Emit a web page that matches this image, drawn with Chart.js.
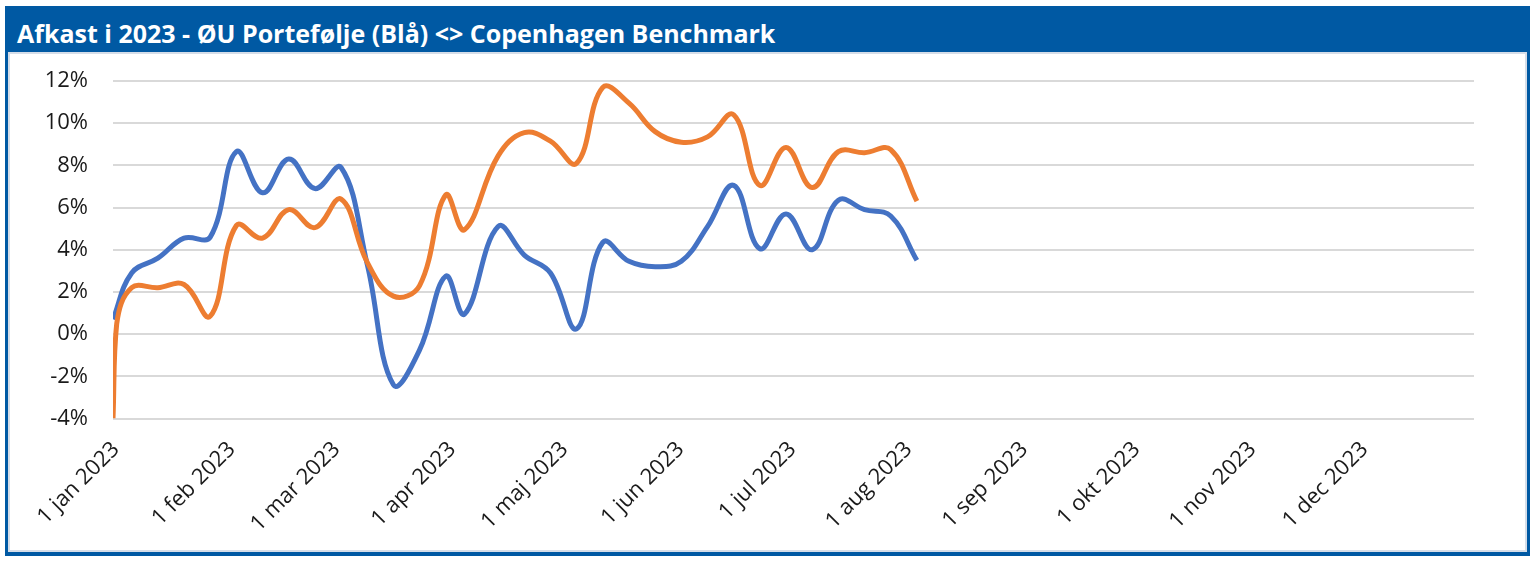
<!DOCTYPE html>
<html>
<head>
<meta charset="utf-8">
<script src="https://cdn.jsdelivr.net/npm/chart.js@4.4.0/dist/chart.umd.min.js"></script>
<style>
  body { margin: 0; background: #fff; }
  #frame {
    position: absolute; left: 5px; top: 6px; width: 1525px; height: 550px;
    box-sizing: border-box; border: 3px solid #0059a3; border-top: 0; border-bottom-width: 4px;
  }
  #title {
    height: 46px; background: #0059a3; color: #fff; padding-left: 9px;
    font-family: "Open Sans", sans-serif; font-weight: 700; font-size: 25px;
    line-height: 54px; white-space: nowrap; overflow: visible;
  }
  #inner {
    height: 500px; box-sizing: border-box; border: 2px solid #d5dde8; background: #fff;
  }
  #wrap { position: relative; width: 1515px; height: 496px; }
</style>
</head>
<body>
<div id="frame">
  <div id="title">Afkast i 2023 - ØU Portefølje (Blå) &lt;&gt; Copenhagen Benchmark</div>
  <div id="inner"><div id="wrap"><canvas id="afkastChart"></canvas></div></div>
</div>
<script>
// ugentlige datoer (fredage), plus start 1 jan
const datoer = ['2023-01-01', '2023-01-02', '2023-01-06', '2023-01-13', '2023-01-20', '2023-01-27',
  '2023-02-03', '2023-02-10', '2023-02-17', '2023-02-24', '2023-03-03', '2023-03-10', '2023-03-17',
  '2023-03-24', '2023-03-31', '2023-04-05', '2023-04-14', '2023-04-21', '2023-04-28', '2023-05-05',
  '2023-05-12', '2023-05-19', '2023-05-26', '2023-06-02', '2023-06-09', '2023-06-16', '2023-06-23',
  '2023-06-30', '2023-07-07', '2023-07-14', '2023-07-21', '2023-07-28', '2023-08-04'];

// ØU Portefølje (blå), i procent
const portefolje = [0.7, null, 2.9, 3.6, 4.55, 4.6,
  8.65, 6.7, 8.3, 6.9, 7.9, 3.3, -2.4,
  -0.75, 2.75, 0.95, 5.1, 3.75, 2.9, 0.25,
  4.35, 3.45, 3.2, 3.45, 5.1, 7.05, 4.05,
  5.7, 4.0, 6.35, 5.9, 5.6, 3.5];

// Copenhagen Benchmark (orange), i procent
const benchmark = [-4, 0.5, 2.2, 2.2, 2.35, 0.85,
  5.15, 4.55, 5.9, 5.05, 6.4, 3.4, 1.8,
  2.3, 6.6, 4.95, 8.45, 9.55, 9.15, 8.1,
  11.7, 10.95, 9.6, 9.1, 9.35, 10.4, 7.05,
  8.85, 6.95, 8.65, 8.6, 8.75, 6.3];

const maanedStart = ['2023-01-01', '2023-02-01', '2023-03-01', '2023-04-01', '2023-05-01', '2023-06-01',
  '2023-07-01', '2023-08-01', '2023-09-01', '2023-10-01', '2023-11-01', '2023-12-01'];
const tickLabels = ['1 jan 2023', '1 feb 2023', '1 mar 2023', '1 apr 2023', '1 maj 2023', '1 jun 2023',
  '1 jul 2023', '1 aug 2023', '1 sep 2023', '1 okt 2023', '1 nov 2023', '1 dec 2023'];

const yMin = -4, yMax = 12, yStep = 2;

// dag nr. i året (1 jan = 0)
function dag(s) {
  const d = new Date(s + 'T00:00:00Z');
  return Math.round((d - Date.UTC(2023, 0, 1)) / 86400000);
}
const tickDage = maanedStart.map(dag);

function punkter(vaerdier) {
  return datoer.map((d, i) => ({ x: dag(d), y: vaerdier[i] }));
}

const fontTick = { family: '"Open Sans", sans-serif', size: 22 };

const ctx = document.getElementById('afkastChart').getContext('2d');
const afkastChart = new Chart(ctx, {
  type: 'line',
  data: {
    datasets: [{
      label: 'ØU Portefølje',
      data: punkter(portefolje),
      borderColor: '#4472c4',
      borderWidth: 5,
      pointRadius: 0,
      tension: 0.4,
      spanGaps: true,
      order: 1
    }, {
      label: 'Copenhagen Benchmark',
      data: punkter(benchmark),
      borderColor: '#ed7d31',
      borderWidth: 5,
      pointRadius: 0,
      tension: 0.4,
      order: 0
    }]
  },
  options: {
    responsive: true,
    maintainAspectRatio: false,
    animation: false,
    layout: { padding: { left: 0, right: 51, top: 27, bottom: 0 } },
    plugins: { legend: { display: false }, tooltip: { enabled: false } },
    scales: {
      x: {
        type: 'linear',
        min: 0,
        max: 364,
        grid: { display: false },
        border: { display: false },
        afterBuildTicks: (scale) => { scale.ticks = tickDage.map(v => ({ value: v })); },
        afterFit: (scale) => { scale.height = 131.5; },
        ticks: {
          autoSkip: false,
          maxRotation: 45,
          minRotation: 45,
          padding: 10,
          labelOffset: 3,
          color: '#1a1a1a',
          font: fontTick,
          callback: (v) => tickLabels[tickDage.indexOf(v)]
        }
      },
      y: {
        min: yMin,
        max: yMax,
        grid: { color: '#d9d9d9', lineWidth: 2, drawTicks: true, tickLength: 22, tickColor: 'rgba(0,0,0,0)' },
        border: { display: false },
        afterFit: (scale) => { scale.width = 103; },
        ticks: {
          stepSize: yStep,
          padding: 3,
          color: '#1a1a1a',
          font: fontTick,
          callback: (v) => v + '%'
        }
      }
    }
  }
});
</script>
</body>
</html>
